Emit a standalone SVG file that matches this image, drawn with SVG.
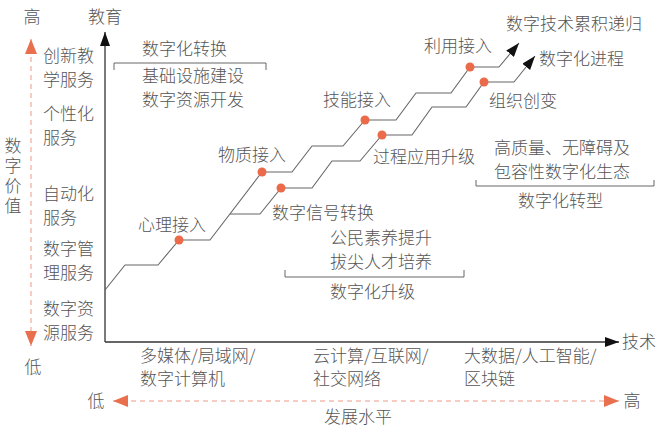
<svg xmlns="http://www.w3.org/2000/svg" width="656" height="432" viewBox="0 0 656 432">
<defs>
<style>
text{font-family:"Noto Sans CJK SC","Noto Sans",sans-serif;font-size:17px;fill:#555;font-weight:300}
.vert{writing-mode:vertical-rl;letter-spacing:3px}
.axis{stroke:#333;stroke-width:1.3;fill:none}
.stair{stroke:#666;stroke-width:1.1;fill:none;stroke-linejoin:round}
.dash{stroke:#ef9a86;stroke-width:1;stroke-dasharray:5 4;fill:none}
.brk{stroke:#666;stroke-width:1;fill:none}
.dot{fill:#ea6a4a}
</style>
<marker id="ab" markerUnits="userSpaceOnUse" viewBox="0 0 14 10" refX="14" refY="5" markerWidth="14" markerHeight="10" orient="auto"><path d="M0,0L14,5L0,10z" fill="#111"/></marker>
<marker id="ar" markerUnits="userSpaceOnUse" viewBox="0 0 15 12" refX="15" refY="6" markerWidth="15" markerHeight="12" orient="auto-start-reverse"><path d="M0,0L15,6L0,12z" fill="#e8704f"/></marker>
</defs>
<rect width="656" height="432" fill="#fff"/>

<g id="axes">
<line class="axis" x1="105" y1="342" x2="105" y2="32" marker-end="url(#ab)"/>
<line class="axis" x1="105" y1="342" x2="619" y2="342" marker-end="url(#ab)"/>
<text x="105" y="23" text-anchor="middle">教育</text>
<text x="622" y="348">技术</text>
</g>

<g id="value-scale">
<line class="dash" x1="31" y1="39" x2="31" y2="346" marker-start="url(#ar)" marker-end="url(#ar)"/>
<text x="32" y="23" text-anchor="middle">高</text>
<text x="33" y="373" text-anchor="middle">低</text>
<text class="vert" x="13" y="137">数字价值</text>
<text x="43" y="62">创新教</text>
<text x="43" y="86">学服务</text>
<text x="43" y="120">个性化</text>
<text x="43" y="144">服务</text>
<text x="43" y="200">自动化</text>
<text x="43" y="224">服务</text>
<text x="43" y="255">数字管</text>
<text x="43" y="279">理服务</text>
<text x="43" y="315">数字资</text>
<text x="43" y="339">源服务</text>
</g>

<g id="dev-scale">
<line class="dash" x1="113" y1="401" x2="619" y2="401" marker-start="url(#ar)" marker-end="url(#ar)"/>
<text x="96" y="407" text-anchor="middle">低</text>
<text x="632" y="407" text-anchor="middle">高</text>
<text x="358" y="423" text-anchor="middle">发展水平</text>
</g>

<g id="tech-labels">
<text x="140" y="362">多媒体/局域网/</text>
<text x="140" y="385">数字计算机</text>
<text x="313" y="362">云计算/互联网/</text>
<text x="313" y="385">社交网络</text>
<text x="464" y="362">大数据/人工智能/</text>
<text x="464" y="385">区块链</text>
</g>

<g id="stage-transform">
<text x="142" y="55">数字化转换</text>
<path class="brk" d="M114,70V63H266V70"/>
<text x="142" y="82">基础设施建设</text>
<text x="142" y="106">数字资源开发</text>
</g>

<g id="stage-upgrade">
<text x="330" y="244">公民素养提升</text>
<text x="330" y="268">拔尖人才培养</text>
<path class="brk" d="M285,270V277H464V270"/>
<text x="330" y="298">数字化升级</text>
</g>

<g id="stage-transition">
<text x="494" y="154">高质量、无障碍及</text>
<text x="494" y="178">包容性数字化生态</text>
<path class="brk" d="M476,180V186H654V180"/>
<text x="518" y="207">数字化转型</text>
</g>

<g id="connectors">
<path class="stair" d="M105,290L125,265H158L179,240H210L262,172H292L312,146H343L365,120H396L416,93H451L470,67H499L519,43" marker-end="url(#ab)"/>
<path class="stair" d="M230,214H260L281,188H312L332,161H360L382,135H412L432,107H466L484,82H514L535,56" marker-end="url(#ab)"/>
</g>

<g id="tech-nodes">
<circle class="dot" cx="179" cy="240" r="4.5"/>
<text x="138" y="231">心理接入</text>
<circle class="dot" cx="262" cy="172" r="4.5"/>
<text x="218" y="161">物质接入</text>
<circle class="dot" cx="365" cy="120" r="4.5"/>
<text x="323" y="106">技能接入</text>
<circle class="dot" cx="470" cy="67" r="4.5"/>
<text x="424" y="52">利用接入</text>
<text x="506" y="30">数字技术累积递归</text>
</g>

<g id="process-nodes">
<circle class="dot" cx="281" cy="188" r="4.5"/>
<text x="272" y="219">数字信号转换</text>
<circle class="dot" cx="382" cy="135" r="4.5"/>
<text x="373" y="163">过程应用升级</text>
<circle class="dot" cx="484" cy="82" r="4.5"/>
<text x="489" y="107">组织创变</text>
<text x="539" y="65">数字化进程</text>
</g>
</svg>
